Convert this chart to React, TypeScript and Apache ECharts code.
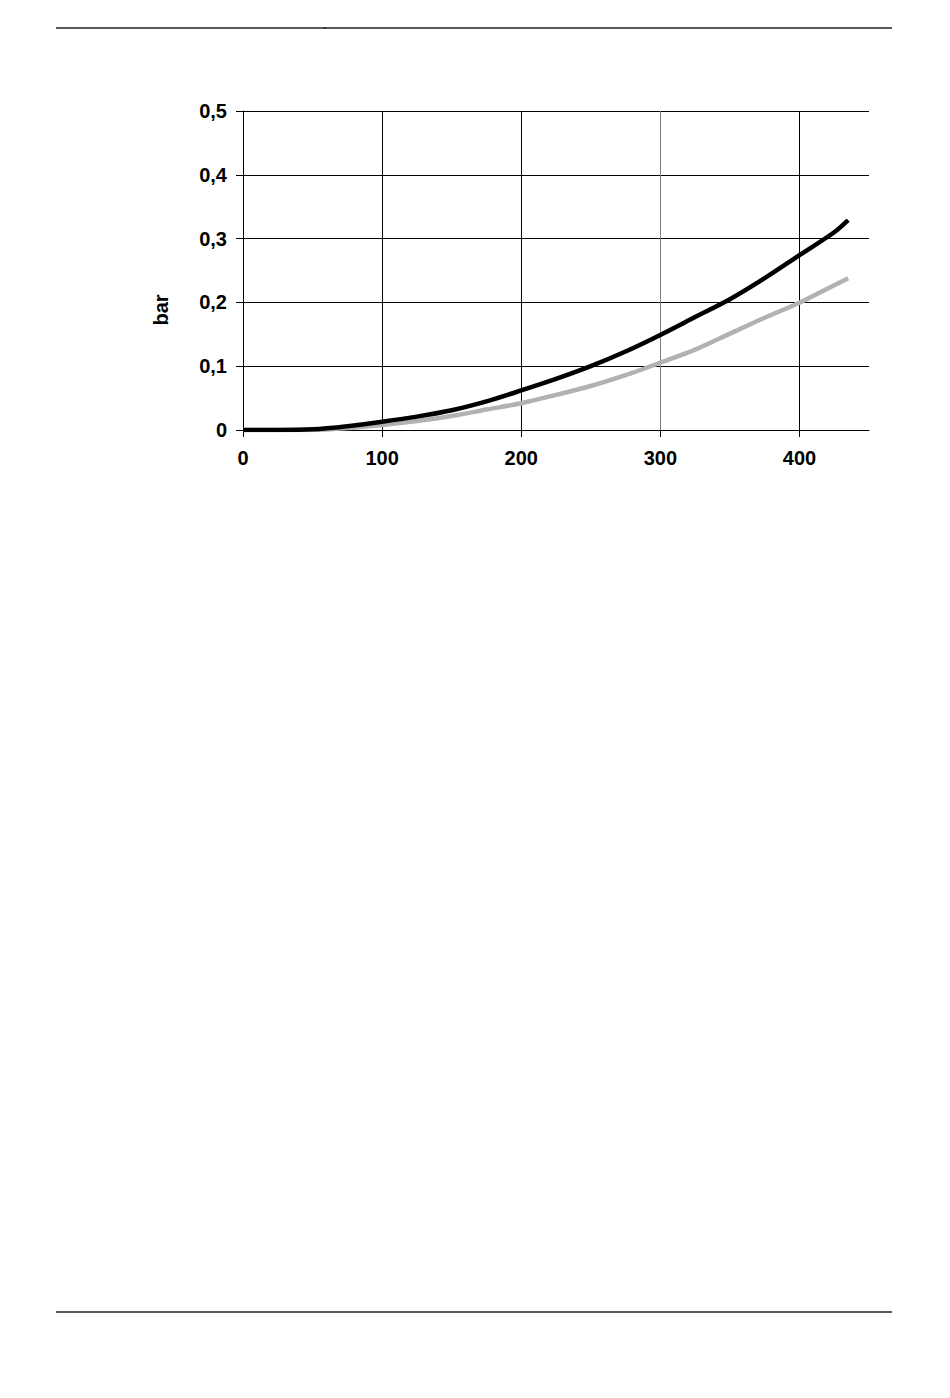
import React, { useEffect, useRef } from "react";
import * as echarts from "echarts";

const xValues = [0, 25, 50, 75, 100, 125, 150, 175, 200, 225, 250, 275, 300, 325, 350, 375, 400, 425, 435];
const blackValues = [0, 0.0, 0.001, 0.006, 0.013, 0.021, 0.031, 0.045, 0.062, 0.08, 0.1, 0.123, 0.149, 0.177, 0.205, 0.238, 0.274, 0.31, 0.329];
const grayValues = [0, 0, 0, 0.003, 0.008, 0.014, 0.022, 0.032, 0.042, 0.055, 0.069, 0.086, 0.1055, 0.126, 0.151, 0.176, 0.1995, 0.227, 0.238];
const xTicks = [0, 100, 200, 300, 400];
const yTicks = [0, 0.1, 0.2, 0.3, 0.4, 0.5];
const yTitle = "bar";

const FONT = "'Liberation Sans', Arial, sans-serif";

export default function App() {
  const ref = useRef<HTMLDivElement>(null);
  useEffect(() => {
    if (!ref.current) return;
    const chart = echarts.init(ref.current, null, { renderer: "svg" });
    const pair = (ys: number[]) => xValues.map((x, i) => [x, ys[i]]);
    chart.setOption({
      animation: false,
      backgroundColor: "#ffffff",
      grid: { left: 243, top: 111, right: 81, bottom: 968, containLabel: false },
      xAxis: {
        type: "value",
        min: 0,
        max: 450,
        interval: 100,
        axisLine: { show: true, onZero: false, lineStyle: { color: "#000", width: 1 } },
        axisTick: { show: true, length: 7, lineStyle: { color: "#000" }, customValues: xTicks },
        axisLabel: {
          customValues: xTicks,
          margin: 18,
          color: "#000",
          fontFamily: FONT,
          fontWeight: "bold",
          fontSize: 20,
          formatter: (v: number) => String(v),
        },
        splitLine: { show: true, showMinLine: false, lineStyle: { color: ["#000", "#000", "#808080", "#000"], width: 1 } },
      },
      yAxis: {
        type: "value",
        min: 0,
        max: 0.5,
        interval: 0.1,
        axisLine: { show: true, lineStyle: { color: "#000", width: 1 } },
        axisTick: { show: true, length: 7, lineStyle: { color: "#000" } },
        axisLabel: {
          customValues: yTicks,
          margin: 16,
          color: "#000",
          fontFamily: FONT,
          fontWeight: "bold",
          fontSize: 20,
          formatter: (v: number) => (Math.round(v * 10) / 10).toString().replace(".", ","),
        },
        splitLine: { show: true, lineStyle: { color: "#000", width: 1 } },
      },
      series: [
        {
          name: "gray",
          type: "line",
          data: pair(grayValues),
          showSymbol: false,
          smooth: 0.3,
          lineStyle: { color: "#b2b2b2", width: 4.5 },
          z: 2,
        },
        {
          name: "black",
          type: "line",
          data: pair(blackValues),
          showSymbol: false,
          smooth: 0.3,
          lineStyle: { color: "#000000", width: 4.5 },
          z: 3,
        },
      ],
      graphic: [
        {
          type: "text",
          x: 161,
          y: 310,
          rotation: Math.PI / 2,
          style: {
            text: yTitle,
            fill: "#000",
            font: `bold 20px ${FONT}`,
            align: "center",
            verticalAlign: "middle",
          },
        },
        { type: "line", shape: { x1: 56, y1: 28, x2: 892, y2: 28 }, style: { stroke: "#5a5a5a", lineWidth: 2 } },
        { type: "line", shape: { x1: 325, y1: 27, x2: 325, y2: 29 }, style: { stroke: "#000", lineWidth: 1 } },
        { type: "line", shape: { x1: 56, y1: 1312, x2: 892, y2: 1312 }, style: { stroke: "#5a5a5a", lineWidth: 2 } },
      ],
    });
    return () => chart.dispose();
  }, []);
  return (
    <div
      ref={ref}
      style={{ position: "absolute", left: 0, top: 0, width: 950, height: 1398, background: "#fff" }}
    />
  );
}
